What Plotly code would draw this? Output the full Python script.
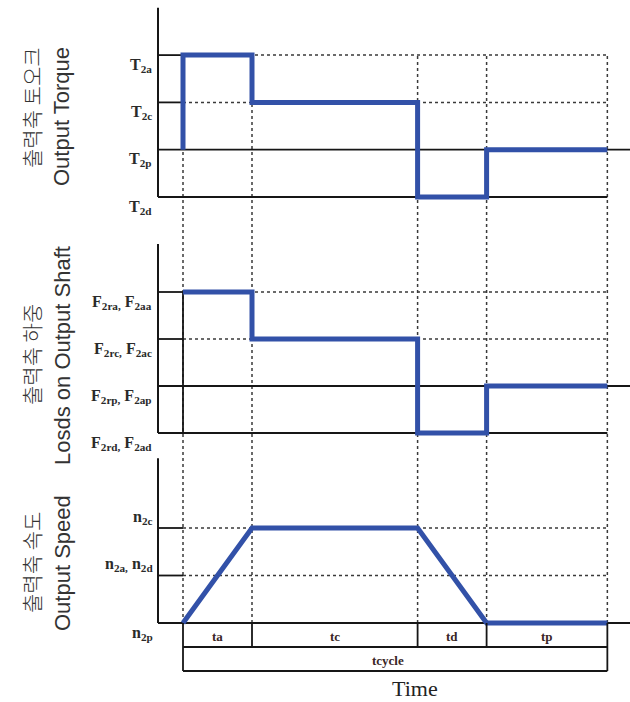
import plotly.graph_objects as go

# ---------------- data ----------------
phases = ["ta", "tc", "td", "tp"]
durations = [1.0, 2.4, 1.0, 1.75]          # relative phase lengths
cycle_label = "tcycle"

torque_labels = ["T<sub>2d</sub>", "T<sub>2p</sub>", "T<sub>2c</sub>", "T<sub>2a</sub>"]   # levels 0..3
torque_levels = [3, 2, 0, 1]                 # level during ta, tc, td, tp (start at T2p)
torque_start = 1

load_labels = ["F<sub>2rd,</sub> F<sub>2ad</sub>", "F<sub>2rp,</sub> F<sub>2ap</sub>",
               "F<sub>2rc,</sub> F<sub>2ac</sub>", "F<sub>2ra,</sub> F<sub>2aa</sub>"]
load_levels = [3, 2, 0, 1]

speed_labels = ["n<sub>2p</sub>", "n<sub>2a,</sub> n<sub>2d</sub>", "n<sub>2c</sub>"]
speed_points = [0, 2, 2, 0, 0]               # at phase boundaries

titles_kr = ["출력축 토오크", "출력축 하중", "출력축 속도"]
titles_en = ["Output Torque", "Losds on Output Shaft", "Output Speed"]
x_title = "Time"

# ---------------- derived ----------------
bounds = [0.0]
for d in durations:
    bounds.append(bounds[-1] + d)
t_end = bounds[-1]

W, H = 630, 702
PX0, PXU = 183, 69.0   # pixel of t=0, pixels per unit
xr = [-PX0 / PXU, (W - PX0) / PXU]
AX = -25 / PXU          # vertical axis position (x=158)

def dom(top_px, bot_px):
    return [1 - bot_px / H, 1 - top_px / H]

panels = [
    dict(top=0, bot=222, zero=197, step=47.3, axtop=4.0, yref="y"),
    dict(top=225, bot=452, zero=433, step=47.0, axtop=4.02, yref="y2"),
    dict(top=450, bot=640, zero=623, step=47.5, axtop=3.47, yref="y3"),
]
for p in panels:
    p["range"] = [-(p["bot"] - p["zero"]) / p["step"], (p["zero"] - p["top"]) / p["step"]]

BLUE = "#3251a8"
BLACK = "#161616"
DOT = "#3a3a3a"
LABEL_FONT = dict(family="Liberation Serif", size=16, color="#2a2a2a", weight="bold")

fig = go.Figure()
shapes = []
annots = []

def hline(yref, y, x0, x1, dash="solid", w=1.8, c=BLACK):
    shapes.append(dict(type="line", xref="x", yref=yref, x0=x0, x1=x1, y0=y, y1=y,
                       line=dict(color=c, width=w, dash=dash), layer="below"))

def vline(yref, x, y0, y1, dash="solid", w=1.8, c=BLACK):
    shapes.append(dict(type="line", xref="x", yref=yref, x0=x, x1=x, y0=y0, y1=y1,
                       line=dict(color=c, width=w, dash=dash), layer="below"))

# vertical dotted grid lines spanning the three panels
top_y_paper = 1 - (panels[0]["zero"] - 3 * panels[0]["step"]) / H
bot_y_paper = 1 - panels[2]["zero"] / H
for b in bounds:
    shapes.append(dict(type="line", xref="x", yref="paper", x0=b, x1=b,
                       y0=bot_y_paper, y1=top_y_paper,
                       line=dict(color=DOT, width=1.5, dash="dot"), layer="below"))

# ---- step panels (torque & load) ----
for pi, (levels, labels) in enumerate([(torque_levels, torque_labels), (load_levels, load_labels)]):
    p = panels[pi]
    yr = p["yref"]
    vline(yr, AX, 0, p["axtop"], w=2)
    hline(yr, 0, AX, t_end)
    hline(yr, 1, AX, xr[1])
    for lv in (2, 3):
        hline(yr, lv, AX, 0)
        hline(yr, lv, 0, t_end, dash="dot", w=1.5, c=DOT)
    if pi == 1:
        vline(yr, 0, 0, 3)
    xs, ys = [], []
    if pi == 0:
        xs.append(0); ys.append(torque_start)
    for i, lv in enumerate(levels):
        xs += [bounds[i], bounds[i + 1]]
        ys += [lv, lv]
    fig.add_trace(go.Scatter(x=xs, y=ys, mode="lines", yaxis=yr,
                             line=dict(color=BLUE, width=5), hoverinfo="skip",
                             showlegend=False))
    for lv, lab in enumerate(labels):
        annots.append(dict(xref="paper", yref=yr, x=154 / W, y=lv, text=lab,
                           xanchor="right", yanchor="middle", yshift=-10, showarrow=False,
                           font=LABEL_FONT))

# ---- speed panel ----
p = panels[2]
yr = p["yref"]
vline(yr, AX, 0, p["axtop"], w=2)
hline(yr, 0, AX, xr[1])
for lv in (1, 2):
    hline(yr, lv, AX, 0)
    hline(yr, lv, 0, t_end, dash="dot", w=1.5, c=DOT)
fig.add_trace(go.Scatter(x=bounds, y=speed_points, mode="lines", yaxis=yr,
                         line=dict(color=BLUE, width=5), hoverinfo="skip", showlegend=False))
for lv, lab in enumerate(speed_labels):
    annots.append(dict(xref="paper", yref=yr, x=155 / W, y=lv, text=lab,
                       xanchor="right", yanchor="middle", yshift=(-10 if lv == 0 else 11),
                       showarrow=False, font=LABEL_FONT))

# ---- timeline bar ----
for i, b in enumerate(bounds):
    lo = 0 if i in (0, len(bounds) - 1) else 1
    vline("y4", b, lo, 2)
hline("y4", 1, 0, t_end)
hline("y4", 0, 0, t_end)
TL_FONT = dict(family="Liberation Serif", size=13, color="#3a2626", weight="bold")
for i, ph in enumerate(phases):
    annots.append(dict(xref="x", yref="y4", x=(bounds[i] + bounds[i + 1]) / 2, y=1.5, text=ph,
                       showarrow=False, yshift=-1, font=TL_FONT))
annots.append(dict(xref="x", yref="y4", x=t_end / 2 - 0.1, y=0.5, text=cycle_label, showarrow=False,
                   yshift=-1, font=TL_FONT))
annots.append(dict(xref="paper", yref="paper", x=415 / W, y=1 - 688 / H, text=x_title,
                   showarrow=False, xanchor="center", yanchor="middle",
                   font=dict(family="Liberation Serif", size=22, color="#222")))

# ---- rotated y titles ----
title_centers = [(108, 117), (355, 356), (563, 563)]
for i in range(3):
    ck, ce = title_centers[i]
    annots.append(dict(xref="paper", yref="paper", x=31 / W, y=1 - ck / H, text=titles_kr[i],
                       textangle=-90, showarrow=False, xanchor="center", yanchor="middle",
                       font=dict(family="Noto Sans CJK KR Light, Noto Sans CJK KR", size=21,
                                 color="#333", weight=300)))
    annots.append(dict(xref="paper", yref="paper", x=62 / W, y=1 - ce / H, text=titles_en[i],
                       textangle=-90, showarrow=False, xanchor="center", yanchor="middle",
                       font=dict(family="Liberation Sans", size=22, color="#333")))

ax_common = dict(visible=False, fixedrange=True)
fig.update_layout(
    width=W, height=H,
    margin=dict(l=0, r=0, t=0, b=0),
    paper_bgcolor="white", plot_bgcolor="rgba(0,0,0,0)",
    showlegend=False,
    xaxis=dict(domain=[0, 1], range=xr, **ax_common),
    yaxis=dict(domain=dom(panels[0]["top"], panels[0]["bot"]), range=panels[0]["range"], anchor="x", **ax_common),
    yaxis2=dict(domain=dom(panels[1]["top"], panels[1]["bot"]), range=panels[1]["range"], anchor="x", **ax_common),
    yaxis3=dict(domain=dom(panels[2]["top"], panels[2]["bot"]), range=panels[2]["range"], anchor="x", **ax_common),
    yaxis4=dict(domain=dom(615, 700), range=[-(700 - 671) / 24, 2 + (623 - 615) / 24], anchor="x", **ax_common),
    shapes=shapes,
    annotations=annots,
)

fig.write_html("out.html", config={"displayModeBar": False},
               post_script="document.body.style.margin='0';document.body.style.overflow='hidden';")
